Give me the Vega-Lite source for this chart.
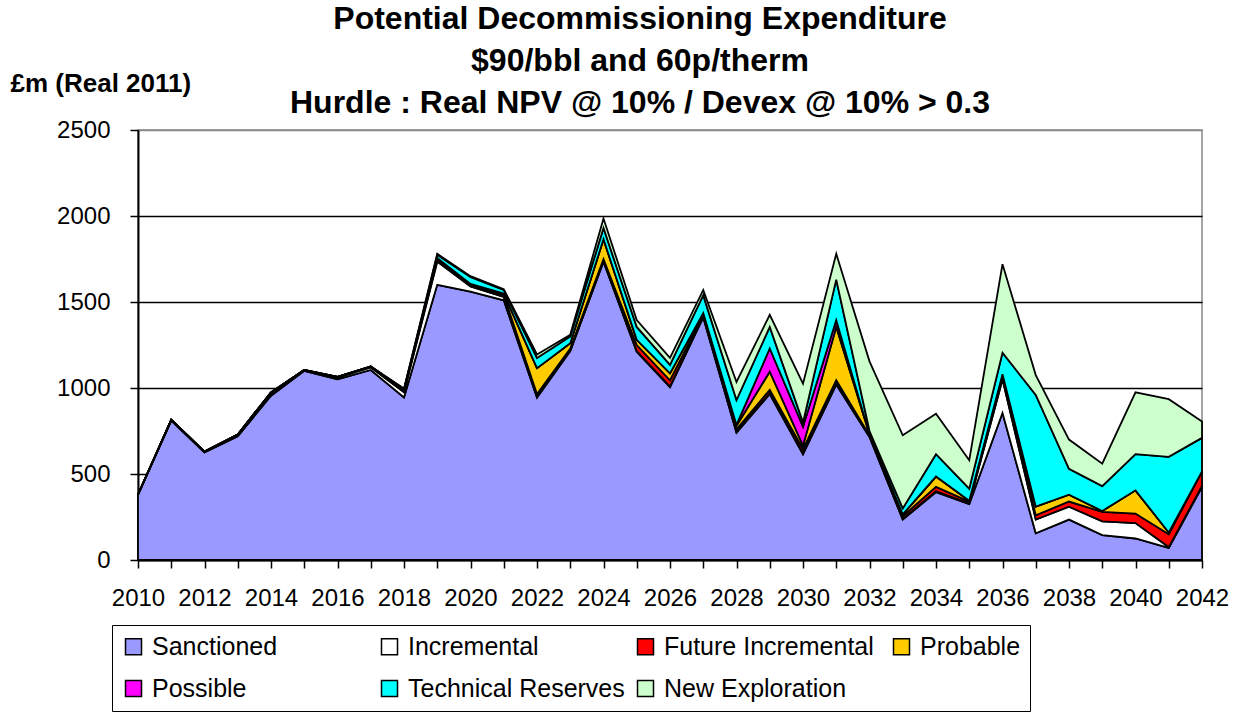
{
  "$schema": "https://vega.github.io/schema/vega-lite/v6.json",
  "width": 1064,
  "height": 430,
  "autosize": "none",
  "padding": {"left": 138, "top": 130, "right": 39, "bottom": 153},
  "background": "white",
  "config": {
    "font": "Liberation Sans",
    "view": {"stroke": "#888888", "strokeWidth": 1.5}
  },
  "title": {
    "text": ["Potential Decommissioning Expenditure", "$90/bbl and 60p/therm", "Hurdle : Real NPV @ 10% / Devex @ 10% > 0.3"],
    "fontSize": 32,
    "fontWeight": "bold",
    "lineHeight": 42,
    "anchor": "middle",
    "frame": "group",
    "dx": -30,
    "dy": 62,
    "offset": 12,
    "color": "black"
  },
  "data": {"values": [
    {"year":2010,"s":"Sanctioned","o":1,"v":380},{"year":2010,"s":"Incremental","o":2,"v":0},{"year":2010,"s":"Future Incremental","o":3,"v":0},{"year":2010,"s":"Probable","o":4,"v":0},{"year":2010,"s":"Possible","o":5,"v":0},{"year":2010,"s":"Technical Reserves","o":6,"v":0},{"year":2010,"s":"New Exploration","o":7,"v":0},
    {"year":2011,"s":"Sanctioned","o":1,"v":810},{"year":2011,"s":"Incremental","o":2,"v":5},{"year":2011,"s":"Future Incremental","o":3,"v":0},{"year":2011,"s":"Probable","o":4,"v":0},{"year":2011,"s":"Possible","o":5,"v":0},{"year":2011,"s":"Technical Reserves","o":6,"v":0},{"year":2011,"s":"New Exploration","o":7,"v":0},
    {"year":2012,"s":"Sanctioned","o":1,"v":625},{"year":2012,"s":"Incremental","o":2,"v":5},{"year":2012,"s":"Future Incremental","o":3,"v":0},{"year":2012,"s":"Probable","o":4,"v":0},{"year":2012,"s":"Possible","o":5,"v":0},{"year":2012,"s":"Technical Reserves","o":6,"v":0},{"year":2012,"s":"New Exploration","o":7,"v":0},
    {"year":2013,"s":"Sanctioned","o":1,"v":720},{"year":2013,"s":"Incremental","o":2,"v":10},{"year":2013,"s":"Future Incremental","o":3,"v":0},{"year":2013,"s":"Probable","o":4,"v":0},{"year":2013,"s":"Possible","o":5,"v":0},{"year":2013,"s":"Technical Reserves","o":6,"v":0},{"year":2013,"s":"New Exploration","o":7,"v":0},
    {"year":2014,"s":"Sanctioned","o":1,"v":955},{"year":2014,"s":"Incremental","o":2,"v":15},{"year":2014,"s":"Future Incremental","o":3,"v":5},{"year":2014,"s":"Probable","o":4,"v":0},{"year":2014,"s":"Possible","o":5,"v":0},{"year":2014,"s":"Technical Reserves","o":6,"v":0},{"year":2014,"s":"New Exploration","o":7,"v":0},
    {"year":2015,"s":"Sanctioned","o":1,"v":1100},{"year":2015,"s":"Incremental","o":2,"v":5},{"year":2015,"s":"Future Incremental","o":3,"v":0},{"year":2015,"s":"Probable","o":4,"v":0},{"year":2015,"s":"Possible","o":5,"v":0},{"year":2015,"s":"Technical Reserves","o":6,"v":0},{"year":2015,"s":"New Exploration","o":7,"v":0},
    {"year":2016,"s":"Sanctioned","o":1,"v":1050},{"year":2016,"s":"Incremental","o":2,"v":10},{"year":2016,"s":"Future Incremental","o":3,"v":5},{"year":2016,"s":"Probable","o":4,"v":0},{"year":2016,"s":"Possible","o":5,"v":0},{"year":2016,"s":"Technical Reserves","o":6,"v":0},{"year":2016,"s":"New Exploration","o":7,"v":0},
    {"year":2017,"s":"Sanctioned","o":1,"v":1105},{"year":2017,"s":"Incremental","o":2,"v":15},{"year":2017,"s":"Future Incremental","o":3,"v":5},{"year":2017,"s":"Probable","o":4,"v":0},{"year":2017,"s":"Possible","o":5,"v":0},{"year":2017,"s":"Technical Reserves","o":6,"v":0},{"year":2017,"s":"New Exploration","o":7,"v":0},
    {"year":2018,"s":"Sanctioned","o":1,"v":945},{"year":2018,"s":"Incremental","o":2,"v":30},{"year":2018,"s":"Future Incremental","o":3,"v":10},{"year":2018,"s":"Probable","o":4,"v":5},{"year":2018,"s":"Possible","o":5,"v":0},{"year":2018,"s":"Technical Reserves","o":6,"v":5},{"year":2018,"s":"New Exploration","o":7,"v":0},
    {"year":2019,"s":"Sanctioned","o":1,"v":1600},{"year":2019,"s":"Incremental","o":2,"v":135},{"year":2019,"s":"Future Incremental","o":3,"v":15},{"year":2019,"s":"Probable","o":4,"v":5},{"year":2019,"s":"Possible","o":5,"v":0},{"year":2019,"s":"Technical Reserves","o":6,"v":20},{"year":2019,"s":"New Exploration","o":7,"v":5},
    {"year":2020,"s":"Sanctioned","o":1,"v":1560},{"year":2020,"s":"Incremental","o":2,"v":30},{"year":2020,"s":"Future Incremental","o":3,"v":10},{"year":2020,"s":"Probable","o":4,"v":5},{"year":2020,"s":"Possible","o":5,"v":0},{"year":2020,"s":"Technical Reserves","o":6,"v":40},{"year":2020,"s":"New Exploration","o":7,"v":5},
    {"year":2021,"s":"Sanctioned","o":1,"v":1510},{"year":2021,"s":"Incremental","o":2,"v":20},{"year":2021,"s":"Future Incremental","o":3,"v":10},{"year":2021,"s":"Probable","o":4,"v":10},{"year":2021,"s":"Possible","o":5,"v":0},{"year":2021,"s":"Technical Reserves","o":6,"v":20},{"year":2021,"s":"New Exploration","o":7,"v":5},
    {"year":2022,"s":"Sanctioned","o":1,"v":945},{"year":2022,"s":"Incremental","o":2,"v":5},{"year":2022,"s":"Future Incremental","o":3,"v":15},{"year":2022,"s":"Probable","o":4,"v":150},{"year":2022,"s":"Possible","o":5,"v":0},{"year":2022,"s":"Technical Reserves","o":6,"v":60},{"year":2022,"s":"New Exploration","o":7,"v":20},
    {"year":2023,"s":"Sanctioned","o":1,"v":1215},{"year":2023,"s":"Incremental","o":2,"v":5},{"year":2023,"s":"Future Incremental","o":3,"v":10},{"year":2023,"s":"Probable","o":4,"v":30},{"year":2023,"s":"Possible","o":5,"v":0},{"year":2023,"s":"Technical Reserves","o":6,"v":40},{"year":2023,"s":"New Exploration","o":7,"v":10},
    {"year":2024,"s":"Sanctioned","o":1,"v":1735},{"year":2024,"s":"Incremental","o":2,"v":5},{"year":2024,"s":"Future Incremental","o":3,"v":10},{"year":2024,"s":"Probable","o":4,"v":115},{"year":2024,"s":"Possible","o":5,"v":0},{"year":2024,"s":"Technical Reserves","o":6,"v":65},{"year":2024,"s":"New Exploration","o":7,"v":55},
    {"year":2025,"s":"Sanctioned","o":1,"v":1210},{"year":2025,"s":"Incremental","o":2,"v":5},{"year":2025,"s":"Future Incremental","o":3,"v":35},{"year":2025,"s":"Probable","o":4,"v":30},{"year":2025,"s":"Possible","o":5,"v":0},{"year":2025,"s":"Technical Reserves","o":6,"v":75},{"year":2025,"s":"New Exploration","o":7,"v":40},
    {"year":2026,"s":"Sanctioned","o":1,"v":1005},{"year":2026,"s":"Incremental","o":2,"v":5},{"year":2026,"s":"Future Incremental","o":3,"v":35},{"year":2026,"s":"Probable","o":4,"v":40},{"year":2026,"s":"Possible","o":5,"v":0},{"year":2026,"s":"Technical Reserves","o":6,"v":50},{"year":2026,"s":"New Exploration","o":7,"v":40},
    {"year":2027,"s":"Sanctioned","o":1,"v":1410},{"year":2027,"s":"Incremental","o":2,"v":5},{"year":2027,"s":"Future Incremental","o":3,"v":10},{"year":2027,"s":"Probable","o":4,"v":10},{"year":2027,"s":"Possible","o":5,"v":0},{"year":2027,"s":"Technical Reserves","o":6,"v":105},{"year":2027,"s":"New Exploration","o":7,"v":30},
    {"year":2028,"s":"Sanctioned","o":1,"v":740},{"year":2028,"s":"Incremental","o":2,"v":5},{"year":2028,"s":"Future Incremental","o":3,"v":15},{"year":2028,"s":"Probable","o":4,"v":20},{"year":2028,"s":"Possible","o":5,"v":5},{"year":2028,"s":"Technical Reserves","o":6,"v":145},{"year":2028,"s":"New Exploration","o":7,"v":105},
    {"year":2029,"s":"Sanctioned","o":1,"v":965},{"year":2029,"s":"Incremental","o":2,"v":5},{"year":2029,"s":"Future Incremental","o":3,"v":20},{"year":2029,"s":"Probable","o":4,"v":105},{"year":2029,"s":"Possible","o":5,"v":135},{"year":2029,"s":"Technical Reserves","o":6,"v":125},{"year":2029,"s":"New Exploration","o":7,"v":70},
    {"year":2030,"s":"Sanctioned","o":1,"v":615},{"year":2030,"s":"Incremental","o":2,"v":5},{"year":2030,"s":"Future Incremental","o":3,"v":25},{"year":2030,"s":"Probable","o":4,"v":20},{"year":2030,"s":"Possible","o":5,"v":110},{"year":2030,"s":"Technical Reserves","o":6,"v":25},{"year":2030,"s":"New Exploration","o":7,"v":225},
    {"year":2031,"s":"Sanctioned","o":1,"v":1020},{"year":2031,"s":"Incremental","o":2,"v":5},{"year":2031,"s":"Future Incremental","o":3,"v":20},{"year":2031,"s":"Probable","o":4,"v":310},{"year":2031,"s":"Possible","o":5,"v":40},{"year":2031,"s":"Technical Reserves","o":6,"v":235},{"year":2031,"s":"New Exploration","o":7,"v":150},
    {"year":2032,"s":"Sanctioned","o":1,"v":715},{"year":2032,"s":"Incremental","o":2,"v":5},{"year":2032,"s":"Future Incremental","o":3,"v":5},{"year":2032,"s":"Probable","o":4,"v":5},{"year":2032,"s":"Possible","o":5,"v":0},{"year":2032,"s":"Technical Reserves","o":6,"v":20},{"year":2032,"s":"New Exploration","o":7,"v":405},
    {"year":2033,"s":"Sanctioned","o":1,"v":235},{"year":2033,"s":"Incremental","o":2,"v":5},{"year":2033,"s":"Future Incremental","o":3,"v":15},{"year":2033,"s":"Probable","o":4,"v":10},{"year":2033,"s":"Possible","o":5,"v":0},{"year":2033,"s":"Technical Reserves","o":6,"v":35},{"year":2033,"s":"New Exploration","o":7,"v":425},
    {"year":2034,"s":"Sanctioned","o":1,"v":395},{"year":2034,"s":"Incremental","o":2,"v":5},{"year":2034,"s":"Future Incremental","o":3,"v":25},{"year":2034,"s":"Probable","o":4,"v":60},{"year":2034,"s":"Possible","o":5,"v":0},{"year":2034,"s":"Technical Reserves","o":6,"v":130},{"year":2034,"s":"New Exploration","o":7,"v":235},
    {"year":2035,"s":"Sanctioned","o":1,"v":325},{"year":2035,"s":"Incremental","o":2,"v":5},{"year":2035,"s":"Future Incremental","o":3,"v":10},{"year":2035,"s":"Probable","o":4,"v":5},{"year":2035,"s":"Possible","o":5,"v":0},{"year":2035,"s":"Technical Reserves","o":6,"v":70},{"year":2035,"s":"New Exploration","o":7,"v":165},
    {"year":2036,"s":"Sanctioned","o":1,"v":855},{"year":2036,"s":"Incremental","o":2,"v":195},{"year":2036,"s":"Future Incremental","o":3,"v":15},{"year":2036,"s":"Probable","o":4,"v":10},{"year":2036,"s":"Possible","o":5,"v":5},{"year":2036,"s":"Technical Reserves","o":6,"v":125},{"year":2036,"s":"New Exploration","o":7,"v":515},
    {"year":2037,"s":"Sanctioned","o":1,"v":155},{"year":2037,"s":"Incremental","o":2,"v":80},{"year":2037,"s":"Future Incremental","o":3,"v":25},{"year":2037,"s":"Probable","o":4,"v":50},{"year":2037,"s":"Possible","o":5,"v":0},{"year":2037,"s":"Technical Reserves","o":6,"v":650},{"year":2037,"s":"New Exploration","o":7,"v":115},
    {"year":2038,"s":"Sanctioned","o":1,"v":235},{"year":2038,"s":"Incremental","o":2,"v":75},{"year":2038,"s":"Future Incremental","o":3,"v":30},{"year":2038,"s":"Probable","o":4,"v":40},{"year":2038,"s":"Possible","o":5,"v":0},{"year":2038,"s":"Technical Reserves","o":6,"v":150},{"year":2038,"s":"New Exploration","o":7,"v":170},
    {"year":2039,"s":"Sanctioned","o":1,"v":145},{"year":2039,"s":"Incremental","o":2,"v":80},{"year":2039,"s":"Future Incremental","o":3,"v":55},{"year":2039,"s":"Probable","o":4,"v":5},{"year":2039,"s":"Possible","o":5,"v":0},{"year":2039,"s":"Technical Reserves","o":6,"v":145},{"year":2039,"s":"New Exploration","o":7,"v":130},
    {"year":2040,"s":"Sanctioned","o":1,"v":125},{"year":2040,"s":"Incremental","o":2,"v":90},{"year":2040,"s":"Future Incremental","o":3,"v":55},{"year":2040,"s":"Probable","o":4,"v":135},{"year":2040,"s":"Possible","o":5,"v":0},{"year":2040,"s":"Technical Reserves","o":6,"v":210},{"year":2040,"s":"New Exploration","o":7,"v":360},
    {"year":2041,"s":"Sanctioned","o":1,"v":70},{"year":2041,"s":"Incremental","o":2,"v":5},{"year":2041,"s":"Future Incremental","o":3,"v":75},{"year":2041,"s":"Probable","o":4,"v":10},{"year":2041,"s":"Possible","o":5,"v":0},{"year":2041,"s":"Technical Reserves","o":6,"v":440},{"year":2041,"s":"New Exploration","o":7,"v":335},
    {"year":2042,"s":"Sanctioned","o":1,"v":425},{"year":2042,"s":"Incremental","o":2,"v":5},{"year":2042,"s":"Future Incremental","o":3,"v":85},{"year":2042,"s":"Probable","o":4,"v":0},{"year":2042,"s":"Possible","o":5,"v":0},{"year":2042,"s":"Technical Reserves","o":6,"v":195},{"year":2042,"s":"New Exploration","o":7,"v":95}
  ]},
  "mark": {"type": "area", "stroke": "black", "strokeWidth": 1.8, "strokeJoin": "miter", "opacity": 1},
  "encoding": {
    "x": {
      "field": "year", "type": "quantitative",
      "scale": {"domain": [2010, 2042], "nice": false, "zero": false},
      "axis": {
        "values": [2010,2011,2012,2013,2014,2015,2016,2017,2018,2019,2020,2021,2022,2023,2024,2025,2026,2027,2028,2029,2030,2031,2032,2033,2034,2035,2036,2037,2038,2039,2040,2041,2042],
        "labelExpr": "datum.value % 2 == 0 ? format(datum.value, 'd') : ''",
        "title": null, "grid": false,
        "domainColor": "black", "domainWidth": 2,
        "tickColor": "black", "tickWidth": 1.5, "tickSize": 8,
        "labelFontSize": 24, "labelColor": "black", "labelPadding": 18,
        "labelFont": "Liberation Sans", "labelOverlap": false, "labelFlush": false
      }
    },
    "y": {
      "field": "v", "type": "quantitative", "stack": "zero",
      "scale": {"domain": [0, 2500], "nice": false},
      "axis": {
        "values": [0, 500, 1000, 1500, 2000, 2500],
        "format": "d",
        "title": "£m (Real 2011)",
        "titleAngle": 0, "titleAlign": "left", "titleBaseline": "middle",
        "titleX": -128, "titleY": -47,
        "titleFontSize": 26, "titleFontWeight": "bold", "titleColor": "black",
        "grid": true,
        "gridColor": {"condition": {"test": "datum.value == 2500", "value": "#888888"}, "value": "black"},
        "gridWidth": 1.5,
        "domainColor": "black", "domainWidth": 2,
        "tickColor": "black", "tickWidth": 1.5, "tickSize": 8,
        "labelFontSize": 24, "labelColor": "black", "labelPadding": 20,
        "labelFont": "Liberation Sans"
      }
    },
    "color": {
      "field": "s", "type": "nominal",
      "scale": {
        "domain": ["Sanctioned", "Incremental", "Future Incremental", "Probable", "Possible", "Technical Reserves", "New Exploration"],
        "range": ["#9999FF", "#FFFFFF", "#FF0000", "#FFCC00", "#FF00FF", "#00FFFF", "#CCFFCC"]
      },
      "legend": {
        "title": null,
        "orient": "none",
        "legendX": -26,
        "legendY": 495,
        "direction": "horizontal",
        "columns": 4,
        "gridAlign": "all",
        "columnPadding": 8,
        "rowPadding": 16,
        "symbolType": "square",
        "symbolSize": 256,
        "symbolStrokeColor": "black",
        "symbolStrokeWidth": 1.5,
        "symbolOpacity": 1,
        "labelFontSize": 25,
        "labelColor": "black",
        "labelLimit": 400,
        "labelOffset": 6,
        "padding": 9,
        "fillColor": "white",
        "strokeColor": "black"
      }
    },
    "order": {"field": "o", "type": "quantitative", "sort": "ascending"}
  }
}
